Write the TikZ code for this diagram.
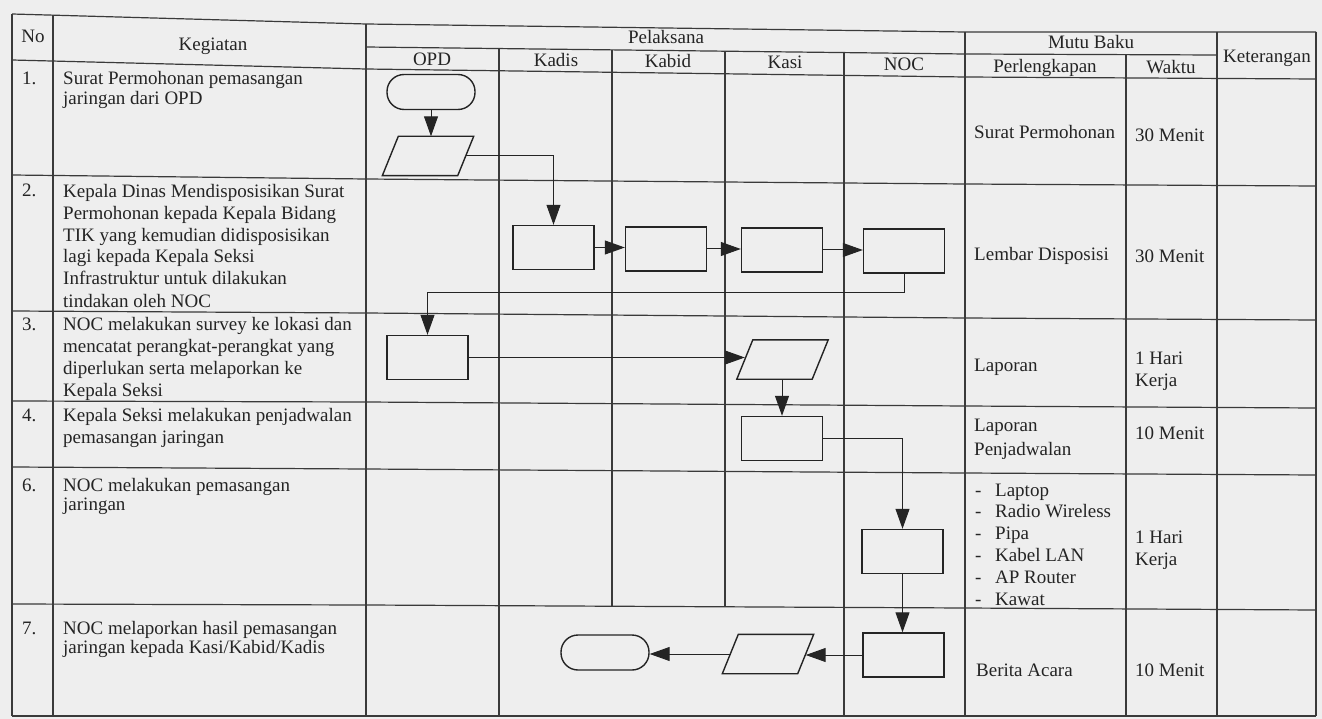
\documentclass[tikz,border=0pt]{standalone}
\usepackage{fontspec}
\setmainfont{Liberation Serif}
\usetikzlibrary{arrows.meta,calc}
\definecolor{ink}{HTML}{242424}
\definecolor{paper}{HTML}{EEEEEE}
\definecolor{rulec}{HTML}{3A3A3A}
\begin{document}
\begin{tikzpicture}[x=1pt,y=-1pt,
  every node/.style={text=ink},
  txt/.style={font=\fontsize{19}{19.5}\selectfont},
  txtwide/.style={font=\fontsize{19}{22}\selectfont},
  tline/.style={draw=rulec, line width=1.2pt},
  outline/.style={draw=ink, line width=1.4pt, line join=miter},
  procbox/.style={outline, rectangle, minimum width=81pt, minimum height=44pt, inner sep=0pt},
  termbox/.style={outline, rectangle, rounded corners=17pt, minimum width=88pt, minimum height=35pt, inner sep=0pt},
  iobox/.style={rectangle, minimum width=91pt, minimum height=39pt, inner sep=0pt},
  flow/.style={draw=ink, line width=1pt, -{Triangle[length=20pt,width=14pt]}},
  hdr/.style={txt, anchor=base, inner sep=0pt},
  cell/.style={txt, anchor=base west, align=left, inner sep=0pt},
  cellwide/.style={txtwide, anchor=base west, align=left, inner sep=0pt},
]
\useasboundingbox (0,0) rectangle (1322,719);
\fill[paper] (0,0) rectangle (1322,719);

% ---- table grid ----
\draw[tline] (12,14) -- (366,24) -- (965,32) -- (1316,32);
\draw[tline] (366,47) -- (965,54) -- (1217,55);
\draw[tline] (12,60) -- (366,69) -- (965,77) -- (1316,79);
\draw[tline] (12,175) -- (366,179) -- (965,184) -- (1316,186);
\draw[tline] (12,311) -- (366,313) -- (965,318) -- (1316,320);
\draw[tline] (12,401) -- (366,402) -- (965,406) -- (1316,408);
\draw[tline] (12,467) -- (366,469) -- (965,473) -- (1316,475);
\draw[tline] (12,604) -- (366,605) -- (965,608) -- (1316,610);
\draw[tline] (12,716) -- (1316,716);
\draw[tline] (12,14) -- (12,716);
\draw[tline] (53,15) -- (53,716);
\draw[tline] (366,24) -- (366,716);
\draw[tline] (499,48.6) -- (499,716);
\draw[tline] (612,49.9) -- (612,606.2);
\draw[tline] (725,51.2) -- (725,606.8);
\draw[tline] (844,52.6) -- (844,716);
\draw[tline] (965,32) -- (965,716);
\draw[tline] (1126,54.6) -- (1126,716);
\draw[tline] (1217,32) -- (1217,716);
\draw[tline] (1316,32) -- (1316,716);

% ---- header ----
\node[hdr] (hNo) at (33,43) {No};
\node[hdr] (hKeg) at (213,51) {Kegiatan};
\node[hdr] (hPel) at (666,44) {Pelaksana};
\node[hdr] (hOPD) at (432,66) {OPD};
\node[hdr] (hKadis) at (556,67) {Kadis};
\node[hdr] (hKabid) at (668,68) {Kabid};
\node[hdr] (hKasi) at (785,69) {Kasi};
\node[hdr] (hNOC) at (904,71) {NOC};
\node[hdr] (hMutu) at (1091,49) {Mutu Baku};
\node[hdr] (hPerl) at (1045,73) {Perlengkapan};
\node[hdr] (hWaktu) at (1171,74) {Waktu};
\node[hdr] (hKet) at (1267,63) {Keterangan};

% ---- numbers ----
\node[cell] (n1) at (22,85) {1.};
\node[cell] (n2) at (22,197) {2.};
\node[cell] (n3) at (22,330) {3.};
\node[cell] (n4) at (22,421) {4.};
\node[cell] (n6) at (22,491) {6.};
\node[cell] (n7) at (22,634) {7.};

% ---- kegiatan (anchor = baseline of last line) ----
\node[cell] (k1) at (63,104.5) {Surat Permohonan pemasangan\\jaringan dari OPD};
\node[cellwide] (k2) at (63,307) {Kepala Dinas Mendisposisikan Surat\\Permohonan kepada Kepala Bidang\\TIK yang kemudian didisposisikan\\lagi kepada Kepala Seksi\\Infrastruktur untuk dilakukan\\tindakan oleh NOC};
\node[cellwide] (k3) at (63,396) {NOC melakukan survey ke lokasi dan\\mencatat perangkat-perangkat yang\\diperlukan serta melaporkan ke\\Kepala Seksi};
\node[cellwide] (k4) at (63,443) {Kepala Seksi melakukan penjadwalan\\pemasangan jaringan};
\node[cell] (k6) at (63,510.5) {NOC melakukan pemasangan\\jaringan};
\node[cell] (k7) at (63,653.5) {NOC melaporkan hasil pemasangan\\jaringan kepada Kasi/Kabid/Kadis};

% ---- perlengkapan ----
\node[cell] (p1) at (974,139) {Surat Permohonan};
\node[cell] (p2) at (974,261) {Lembar Disposisi};
\node[cell] (p3) at (974,371) {Laporan};
\node[cell, font=\fontsize{19}{24}\selectfont] (p4) at (974,455) {Laporan\\Penjadwalan};
\node[cell, font=\fontsize{19}{21.8}\selectfont] (p6) at (975,605) {\makebox[20pt][l]{-}Laptop\\\makebox[20pt][l]{-}Radio Wireless\\\makebox[20pt][l]{-}Pipa\\\makebox[20pt][l]{-}Kabel LAN\\\makebox[20pt][l]{-}AP Router\\\makebox[20pt][l]{-}Kawat};
\node[cell] (p7) at (976,676) {Berita Acara};

% ---- waktu ----
\node[cell] (w1) at (1135,142) {30 Menit};
\node[cell] (w2) at (1135,262) {30 Menit};
\node[cellwide] (w3) at (1135,386) {1 Hari\\Kerja};
\node[cell] (w4) at (1135,439) {10 Menit};
\node[cellwide] (w6) at (1135,565) {1 Hari\\Kerja};
\node[cell] (w7) at (1135,676) {10 Menit};

% ---- flowchart shapes ----
\node[termbox] (start) at (431,92) {};
\node[iobox] (io1) at (428,156) {};
\node[procbox] (d1) at (553.5,247.5) {};
\node[procbox] (d2) at (666,249) {};
\node[procbox] (d3) at (782,250) {};
\node[procbox] (d4) at (904,251) {};
\node[procbox] (s3) at (427.5,357.5) {};
\node[iobox] (io3) at (782.5,359.5) {};
\node[procbox] (k4b) at (782,438.5) {};
\node[procbox] (n6b) at (902.5,551.5) {};
\node[procbox] (n7b) at (903.5,655) {};
\node[iobox] (io7) at (768,654) {};
\node[termbox] (stop) at (605,652.5) {};

% parallelogram outlines on the io nodes
\foreach \p in {io1,io3,io7}{
  \draw[outline] (\p.south west) -- ($(\p.south east)+(-16,0)$) -- (\p.north east) -- ($(\p.north west)+(16,0)$) -- cycle;
  \coordinate (\p-r) at ($(\p.east)+(-8,0)$);
  \coordinate (\p-l) at ($(\p.west)+(8,0)$);
}

% ---- connectors ----
\draw[flow] (start.south) -- (start.south |- io1.north);
\draw[flow] (io1-r) -| (d1.north);
\draw[flow] (d1.east) -- (d1.east -| d2.west);
\draw[flow] (d2.east) -- (d2.east -| d3.west);
\draw[flow] (d3.east) -- (d3.east -| d4.west);
\draw[flow] (d4.south) -- ++(0,19) -| (s3.north);
\draw[flow] (s3.east) -- (s3.east -| io3-l);
\draw[flow] (k4b.north |- io3.south) -- (k4b.north);
\draw[flow] (k4b.east) -| (n6b.north);
\draw[flow] (n6b.south) -- (n6b.south |- n7b.north);
\draw[flow] (n7b.west) -- (n7b.west -| io7-r);
\draw[flow] (io7-l) -- (io7-l -| stop.east);
\end{tikzpicture}
\end{document}
